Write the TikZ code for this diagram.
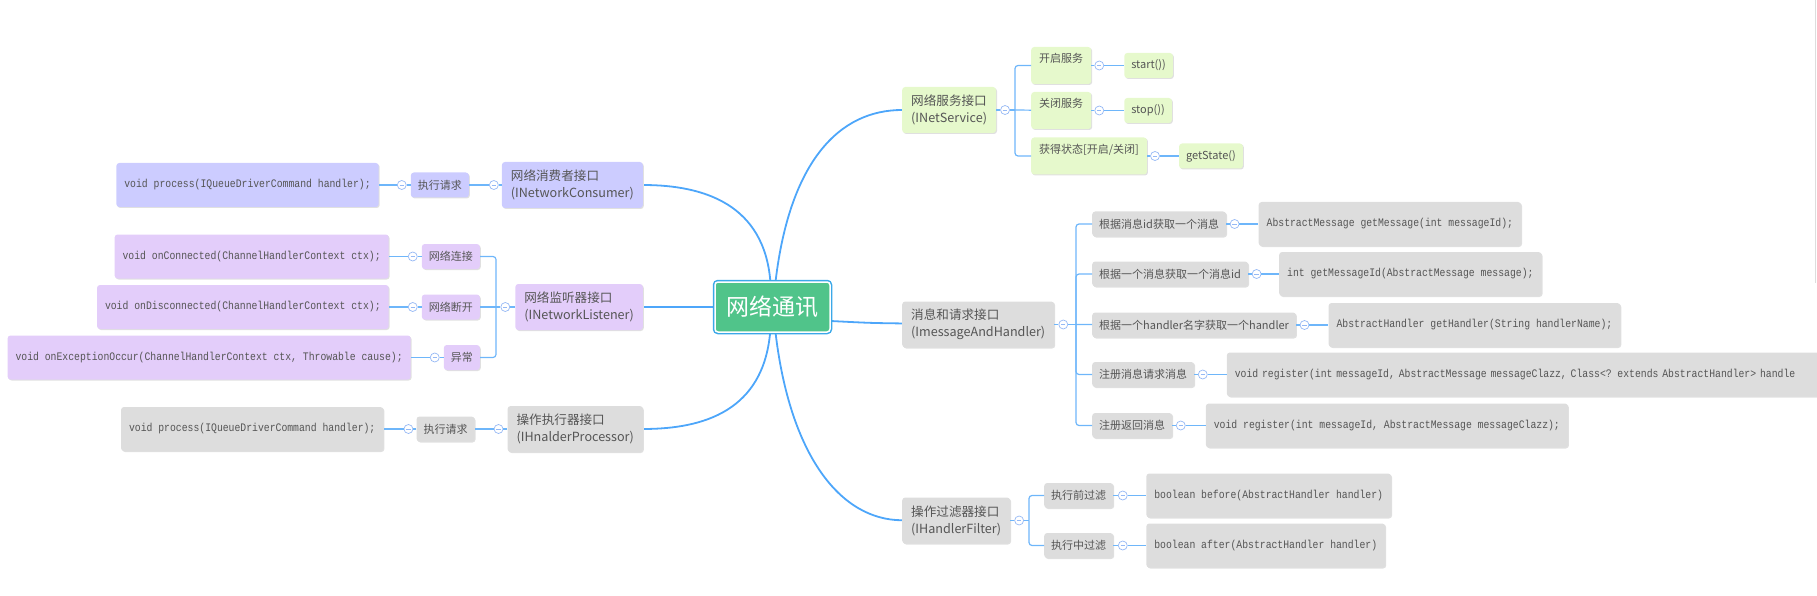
\documentclass[tikz,border=0pt]{standalone}
\usepackage{fontspec}
\setmainfont{Noto Sans CJK SC}
\setmonofont{Liberation Mono}[FakeStretch=0.85]
\usetikzlibrary{positioning,shadows,backgrounds}
\definecolor{rootgreen}{RGB}{80,196,138}
\definecolor{rootblue}{RGB}{59,168,232}
\definecolor{conblue}{RGB}{204,204,255}
\definecolor{lispurple}{RGB}{227,205,250}
\definecolor{boxgray}{RGB}{221,221,221}
\definecolor{svcgreen}{RGB}{230,249,204}
\definecolor{txtgray}{RGB}{85,85,85}
\definecolor{mainblue}{RGB}{77,166,250}
\definecolor{subblue}{RGB}{110,182,250}
\definecolor{foldblue}{RGB}{150,185,245}
\definecolor{edgegray}{RGB}{221,221,221}
\tikzstyle{rootbox}=[rectangle, rounded corners=3pt, fill=rootgreen, draw=white, line width=1.5pt, preaction={draw=rootblue, line width=4.5pt}, text=white, minimum width=115pt, minimum height=50pt, font=\fontsize{23}{26}\selectfont]
\tikzstyle{ibox}=[rectangle, rounded corners=3pt, text=txtgray, align=left, inner xsep=9pt, minimum height=46pt, font=\fontsize{12.6}{17}\selectfont, drop shadow={shadow xshift=1pt, shadow yshift=-1pt, fill=black!12, opacity=1}]
\tikzstyle{conbox}=[ibox, fill=conblue]
\tikzstyle{lisbox}=[ibox, fill=lispurple]
\tikzstyle{graybox}=[ibox, fill=boxgray]
\tikzstyle{svcbox}=[ibox, fill=svcgreen]
\tikzstyle{tbox}=[rectangle, rounded corners=3pt, text=txtgray, inner xsep=7pt, minimum height=25pt, font=\fontsize{11}{13}\selectfont, drop shadow={shadow xshift=1pt, shadow yshift=-1pt, fill=black!12, opacity=1}]
\tikzstyle{ttbox}=[tbox, fill=svcgreen, inner xsep=8pt, inner ysep=4pt, text height=12pt, text depth=17pt]
\tikzstyle{cbox}=[rectangle, rounded corners=3pt, text=txtgray, inner xsep=8pt, minimum height=44pt, font=\ttfamily\fontsize{11.5}{13}\selectfont, drop shadow={shadow xshift=1pt, shadow yshift=-1pt, fill=black!12, opacity=1}]
\tikzstyle{fold}=[circle, draw=foldblue, fill=white, line width=0.7pt, minimum size=9pt, inner sep=0pt, path picture={\draw[foldblue, line width=0.7pt] ([xshift=-2.2pt]path picture bounding box.center) -- ([xshift=2.2pt]path picture bounding box.center);}]
\tikzstyle{mline}=[-, mainblue, line width=1.8pt]
\tikzstyle{sline}=[-, subblue, line width=1.2pt, rounded corners=3pt]
\begin{document}
\begin{tikzpicture}[x=1pt,y=1pt]
\useasboundingbox (0,0) rectangle (1817,-596);
\node (NET) [rootbox] at (772.5,-307) {网络通讯};
\node (CON) [conbox, anchor=east] at (643,-185) {网络消费者接口\\(INetworkConsumer)};
\node (CONf) [fold, left=3pt of CON] {};
\node (CEX) [tbox, fill=conblue, left=20pt of CONf] {执行请求};
\node (CEXf) [fold, left=4pt of CEX] {};
\node (CPR) [cbox, fill=conblue, left=18pt of CEXf] {void process(IQueueDriverCommand handler);};
 \draw[sline] (CON) -- (CONf) -- (CEX) -- (CEXf) -- (CPR);
\node (LIS) [lisbox, anchor=east] at (643,-307) {网络监听器接口\\(INetworkListener)};
\node (LISf) [fold, left=5pt of LIS] {};
\coordinate (LISb) at (496,-307);
\node (LCN) [tbox, fill=lispurple, anchor=east] at (480,-256.5) {网络连接};
\node (LDC) [tbox, fill=lispurple, anchor=east] at (480,-307) {网络断开};
\node (LEX) [tbox, fill=lispurple, anchor=east] at (480,-357.5) {异常};
 \draw[sline] (LIS) -- (LISf) -- (LISb);
 \draw[sline] (LISb) |- (LCN);
 \draw[sline] (LISb) -- (LDC);
 \draw[sline] (LISb) |- (LEX);
\node (LCNf) [fold, left=4pt of LCN] {};
\node (LCNc) [cbox, fill=lispurple, left=19pt of LCNf] {void onConnected(ChannelHandlerContext ctx);};
 \draw[sline] (LCN) -- (LCNf) -- (LCNc);
\node (LDCf) [fold, left=4pt of LDC] {};
\node (LDCc) [cbox, fill=lispurple, left=19pt of LDCf] {void onDisconnected(ChannelHandlerContext ctx);};
 \draw[sline] (LDC) -- (LDCf) -- (LDCc);
\node (LEXf) [fold, left=4pt of LEX] {};
\node (LEXc) [cbox, fill=lispurple, left=19pt of LEXf] {void onExceptionOccur(ChannelHandlerContext ctx, Throwable cause);};
 \draw[sline] (LEX) -- (LEXf) -- (LEXc);
\node (PRO) [graybox, anchor=east] at (643,-429) {操作执行器接口\\(IHnalderProcessor)};
\node (PROf) [fold, left=4pt of PRO] {};
\node (PEX) [tbox, fill=boxgray, left=19pt of PROf] {执行请求};
\node (PEXf) [fold, left=3pt of PEX] {};
\node (PPR) [cbox, fill=boxgray, left=20pt of PEXf] {void process(IQueueDriverCommand handler);};
 \draw[sline] (PRO) -- (PROf) -- (PEX) -- (PEXf) -- (PPR);
\node (SVC) [svcbox, anchor=west] at (902,-110) {网络服务接口\\(INetService)};
\node (SVCf) [fold, right=4pt of SVC] {};
\coordinate (SVCb) at (1015,-110);
\node (SST) [ttbox, anchor=west] at (1031,-65.5) {开启服务};
\node (SSP) [ttbox, anchor=west] at (1031,-110.5) {关闭服务};
\node (SGS) [ttbox, anchor=west] at (1031,-156) {获得状态[开启/关闭]};
 \draw[sline] (SVC) -- (SVCf) -- (SVCb);
 \draw[sline] (SVCb) |- (SST);
 \draw[sline] (SVCb) -- (SSP);
 \draw[sline] (SVCb) |- (SGS);
\node (SSTf) [fold, right=3pt of SST] {};
\node (SSTl) [tbox, fill=svcgreen, right=20pt of SSTf] {start())};
 \draw[sline] (SST) -- (SSTf) -- (SSTl);
\node (SSPf) [fold, right=3pt of SSP] {};
\node (SSPl) [tbox, fill=svcgreen, right=20pt of SSPf] {stop())};
 \draw[sline] (SSP) -- (SSPf) -- (SSPl);
\node (SGSf) [fold, right=3pt of SGS] {};
\node (SGSl) [tbox, fill=svcgreen, right=19pt of SGSf] {getState()};
 \draw[sline] (SGS) -- (SGSf) -- (SGSl);
\node (MAH) [graybox, anchor=west] at (902,-324.5) {消息和请求接口\\(ImessageAndHandler)};
\node (MAHf) [fold, right=4pt of MAH] {};
\coordinate (MAHb) at (1076,-324.5);
\node (MGM) [tbox, fill=boxgray, anchor=west] at (1092,-224) {根据消息id获取一个消息};
\node (MGI) [tbox, fill=boxgray, anchor=west] at (1092,-274) {根据一个消息获取一个消息id};
\node (MGH) [tbox, fill=boxgray, anchor=west] at (1092,-325) {根据一个handler名字获取一个handler};
\node (MRQ) [tbox, fill=boxgray, anchor=west] at (1092,-374.5) {注册消息请求消息};
\node (MRR) [tbox, fill=boxgray, anchor=west] at (1092,-425.5) {注册返回消息};
 \draw[sline] (MAH) -- (MAHf) -- (MAHb);
 \draw[sline] (MAHb) |- (MGM);
 \draw[sline] (MAHb) |- (MGI);
 \draw[sline] (MAHb) -- (MGH);
 \draw[sline] (MAHb) |- (MRQ);
 \draw[sline] (MAHb) |- (MRR);
\node (MGMf) [fold, right=3.5pt of MGM] {};
\node (MGMc) [cbox, fill=boxgray, right=19pt of MGMf] {AbstractMessage getMessage(int messageId);};
 \draw[sline] (MGM) -- (MGMf) -- (MGMc);
\node (MGIf) [fold, right=3.5pt of MGI] {};
\node (MGIc) [cbox, fill=boxgray, right=17.5pt of MGIf] {int getMessageId(AbstractMessage message);};
 \draw[sline] (MGI) -- (MGIf) -- (MGIc);
\node (MGHf) [fold, right=3.5pt of MGH] {};
\node (MGHc) [cbox, fill=boxgray, right=19pt of MGHf] {AbstractHandler getHandler(String handlerName);};
 \draw[sline] (MGH) -- (MGHf) -- (MGHc);
\node (MRQf) [fold, right=3.5pt of MRQ] {};
\node (MRQc) [cbox, fill=boxgray, right=19pt of MRQf, text width=600pt, align=left] {void register(int messageId, AbstractMessage messageClazz, Class<? extends AbstractHandler> handle};
 \draw[sline] (MRQ) -- (MRQf) -- (MRQc);
\node (MRRf) [fold, right=3.5pt of MRR] {};
\node (MRRc) [cbox, fill=boxgray, right=20pt of MRRf] {void register(int messageId, AbstractMessage messageClazz);};
 \draw[sline] (MRR) -- (MRRf) -- (MRRc);
\node (FIL) [graybox, anchor=west] at (902,-520.5) {操作过滤器接口\\(IHandlerFilter)};
\node (FILf) [fold, right=4pt of FIL] {};
\coordinate (FILb) at (1029,-520.5);
\node (FBF) [tbox, fill=boxgray, anchor=west] at (1044,-495.5) {执行前过滤};
\node (FIN) [tbox, fill=boxgray, anchor=west] at (1044,-545.5) {执行中过滤};
 \draw[sline] (FIL) -- (FILf) -- (FILb);
 \draw[sline] (FILb) |- (FBF);
 \draw[sline] (FILb) |- (FIN);
\node (FBFf) [fold, right=4.5pt of FBF] {};
\node (FBFc) [cbox, fill=boxgray, right=18.5pt of FBFf] {boolean before(AbstractHandler handler)};
 \draw[sline] (FBF) -- (FBFf) -- (FBFc);
\node (FINf) [fold, right=4.5pt of FIN] {};
\node (FINc) [cbox, fill=boxgray, right=18.5pt of FINf] {boolean after(AbstractHandler handler)};
 \draw[sline] (FIN) -- (FINf) -- (FINc);
\begin{scope}[on background layer]
 \draw[mline] (NET) .. controls (764,-205) and (705,-185) .. (CON);
 \draw[mline] (NET) -- (LIS);
 \draw[mline] (NET) .. controls (763,-410) and (705,-429) .. (PRO);
 \draw[mline] (NET) .. controls (790,-160) and (840,-110) .. (SVC);
 \draw[mline] ([yshift=-14pt]NET.east) .. controls (870,-323) .. (MAH);
 \draw[mline] (NET) .. controls (790,-455) and (840,-520) .. (FIL);
\end{scope}
 \draw[edgegray, line width=0.8pt] (1815.5,0) -- (1815.5,-283);
\end{tikzpicture}
\end{document}
